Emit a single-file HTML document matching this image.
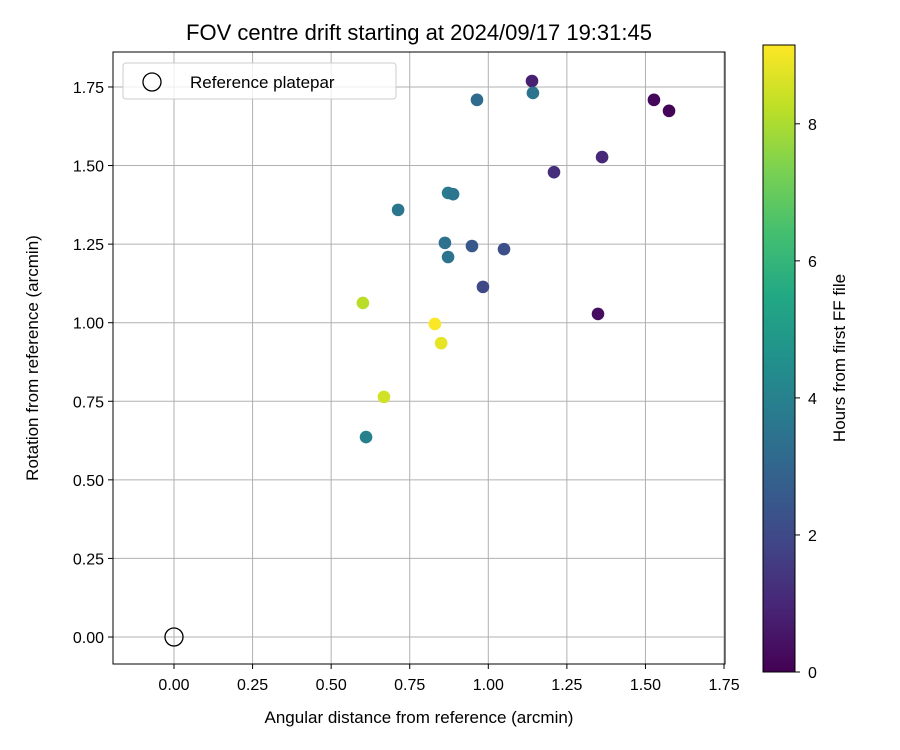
<!DOCTYPE html>
<html><head><meta charset="utf-8">
<style>
html,body{margin:0;padding:0;background:#fff;}
svg{display:block;font-family:"Liberation Sans","DejaVu Sans",sans-serif;}
</style></head>
<body>
<svg id="chart" width="900" height="750" viewBox="0 0 900 750" xmlns="http://www.w3.org/2000/svg">
<defs>
<linearGradient id="viridis" x1="0" y1="1" x2="0" y2="0">
<stop offset="0" stop-color="#440154"/><stop offset="0.1" stop-color="#482475"/><stop offset="0.2" stop-color="#414487"/><stop offset="0.3" stop-color="#355f8d"/><stop offset="0.4" stop-color="#2a788e"/><stop offset="0.5" stop-color="#21918c"/><stop offset="0.6" stop-color="#22a884"/><stop offset="0.7" stop-color="#44bf70"/><stop offset="0.8" stop-color="#7ad151"/><stop offset="0.9" stop-color="#bddf26"/><stop offset="1" stop-color="#fde725"/>
</linearGradient>
</defs>
<text x="419" y="40" font-size="22" text-anchor="middle">FOV centre drift starting at 2024/09/17 19:31:45</text>
<g id="grid"></g>
<g id="points"></g>
<rect x="113" y="52" width="612" height="612" fill="none" stroke="#000" stroke-width="1"/>
<g id="xticks"></g>
<g id="yticks"></g>
<text x="419" y="723" font-size="17" text-anchor="middle">Angular distance from reference (arcmin)</text>
<text transform="translate(38,358) rotate(-90)" font-size="17" text-anchor="middle">Rotation from reference (arcmin)</text>
<g>
<rect x="123" y="63" width="273" height="36" rx="3" fill="#fff" fill-opacity="0.8" stroke="#ccc"/>
<circle cx="152" cy="82" r="9" fill="none" stroke="#000" stroke-width="1.3"/>
<text x="190" y="88" font-size="17">Reference platepar</text>
</g>
<rect x="763" y="45" width="32" height="627" fill="url(#viridis)" stroke="#000" stroke-width="1"/>
<g id="cticks"></g>
<text transform="translate(845,358) rotate(-90)" font-size="17" text-anchor="middle">Hours from first FF file</text>
</svg>
<script>
const xValues=[1.139,1.527,1.575,0.964,1.142,1.362,1.209,0.872,0.888,0.713,0.862,0.948,1.050,0.872,0.983,1.349,0.601,0.830,0.850,0.668,0.611];
const yValues=[1.769,1.709,1.674,1.709,1.731,1.527,1.479,1.413,1.409,1.359,1.254,1.244,1.234,1.209,1.114,1.028,1.063,0.996,0.935,0.764,0.636];
const hours=[0.8,0.2,0.1,3.2,3.5,1.0,1.2,3.8,3.6,3.6,3.4,2.5,2.2,3.5,2.0,0.3,8.2,9.1,8.8,8.5,4.0];
const xTicks=[0,0.25,0.5,0.75,1.0,1.25,1.5,1.75];
const yTicks=[0,0.25,0.5,0.75,1.0,1.25,1.5,1.75];
const cTicks=[0,2,4,6,8];
const refPoint=[0,0];
const hourMax=9.15;

const NS="http://www.w3.org/2000/svg";
const sx=v=>174+v*314.3;
const sy=v=>637-v*314.3;
const sc=v=>672-v/hourMax*627;
const vir=["#440154","#482475","#414487","#355f8d","#2a788e","#21918c","#22a884","#44bf70","#7ad151","#bddf26","#fde725"];
function hex(c){return [1,3,5].map(i=>parseInt(c.substr(i,2),16));}
function color(h){let t=Math.max(0,Math.min(1,h/hourMax))*10;let i=Math.min(9,Math.floor(t));let f=t-i;let a=hex(vir[i]),b=hex(vir[i+1]);return "rgb("+a.map((v,k)=>Math.round(v+(b[k]-v)*f)).join(",")+")";}
function mk(tag,attrs,parent){const e=document.createElementNS(NS,tag);for(const k in attrs)e.setAttribute(k,attrs[k]);parent.appendChild(e);return e;}
const grid=document.getElementById('grid'),xt=document.getElementById('xticks'),yt=document.getElementById('yticks'),ct=document.getElementById('cticks'),pts=document.getElementById('points');
xTicks.forEach(v=>{const x=sx(v);
 const g=mk('line',{x1:x,x2:x,y1:52,y2:664,stroke:'#b0b0b0','stroke-width':1},grid);
 
 
 const t=mk('line',{x1:x,x2:x,y1:664,y2:669,stroke:'#000'},xt);
 
 
 const l=mk('text',{x:x,y:690,'font-size':16,'text-anchor':'middle'},xt);l.textContent=v.toFixed(2);
 
 
});
yTicks.forEach(v=>{const y=sy(v);
 const g=mk('line',{x1:113,x2:725,y1:y,y2:y,stroke:'#b0b0b0','stroke-width':1},grid);
 
 
 const t=mk('line',{x1:108,x2:113,y1:y,y2:y,stroke:'#000'},yt);
 
 
 const l=mk('text',{x:104,y:y+6,'font-size':16,'text-anchor':'end'},yt);l.textContent=v.toFixed(2);
 
 
});
cTicks.forEach(v=>{const y=sc(v);
 const t=mk('line',{x1:795,x2:800,y1:y,y2:y,stroke:'#000'},ct);
 
 
 const l=mk('text',{x:808,y:y+6,'font-size':16},ct);l.textContent=v;
 
 
});
xValues.forEach((v,i)=>{
 const c=mk('circle',{cx:sx(v),cy:sy(yValues[i]),r:6.3,fill:color(hours[i])},pts);
 
 
});
const rp=mk('circle',{cx:sx(refPoint[0]),cy:sy(refPoint[1]),r:9,fill:'none',stroke:'#000','stroke-width':1.3},pts);


</script>
</body></html>
